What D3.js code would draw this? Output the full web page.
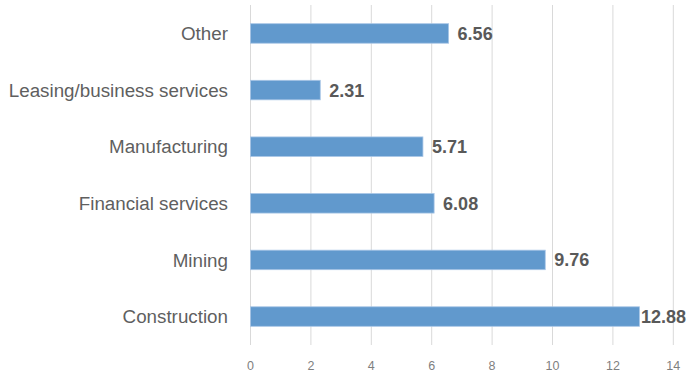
<!DOCTYPE html>
<html><head><meta charset="utf-8">
<script src="https://cdn.jsdelivr.net/npm/d3@7"></script>
<style>body{margin:0;background:#fff}svg{display:block}text{font-family:"Liberation Sans",Arial,sans-serif}</style>
</head><body>
<svg id="c" width="687" height="375"></svg>
<script>
const categories = ["Other","Leasing/business services","Manufacturing","Financial services","Mining","Construction"];
const values = [6.56,2.31,5.71,6.08,9.76,12.88];
const xTicks = [0,2,4,6,8,10,12,14];

const svg = d3.select("#c");
const W = 687, H = 375;
const m = {l:250.5, r:W-673.3, t:5, b:H-345};
const x = d3.scaleLinear().domain([0,14]).range([m.l, W-m.r]);
const y = d3.scaleBand().domain(categories).range([m.t, H-m.b]).paddingInner(0.655).paddingOuter(0.33);

svg.append("g").selectAll("line").data(xTicks).join("line")
  .attr("x1",d=>x(d)).attr("x2",d=>x(d)).attr("y1",m.t).attr("y2",H-m.b)
  .attr("stroke","#d9d9d9").attr("stroke-width",1);

svg.append("g").selectAll("rect").data(categories).join("rect")
  .attr("x",x(0)).attr("y",d=>y(d)).attr("width",(d,i)=>x(values[i])-x(0)).attr("height",y.bandwidth())
  .attr("fill","#6199cd").attr("stroke","#a9c6e6").attr("stroke-width",0.8);

svg.append("g").selectAll("text").data(categories).join("text")
  .attr("x",228).attr("y",d=>y(d)+y.bandwidth()/2).attr("dy","0.35em")
  .attr("text-anchor","end")
  .attr("font-size",18.8).attr("fill","#5f5f5f").text(d=>d);

svg.append("g").selectAll("text").data(categories).join("text")
  .attr("x",(d,i)=>x(values[i])+9)
  .attr("y",d=>y(d)+y.bandwidth()/2).attr("dy","0.36em")
  .attr("font-weight","bold")
  .attr("font-size",18).attr("fill","#595959").text((d,i)=>values[i].toFixed(2))
  .each(function(d,i){
    const w = this.getComputedTextLength();
    const sx = x(values[i])+9;
    if (sx + w > W-1) d3.select(this).attr("x", W-1-w);
  });

svg.append("g").selectAll("text").data(xTicks).join("text")
  .attr("x",d=>x(d)).attr("y",365.5).attr("dy","0.35em").attr("text-anchor","middle")
  .attr("font-size",12.5).attr("fill","#7f7f7f")
  .text(d=>d);
</script>
</body></html>
